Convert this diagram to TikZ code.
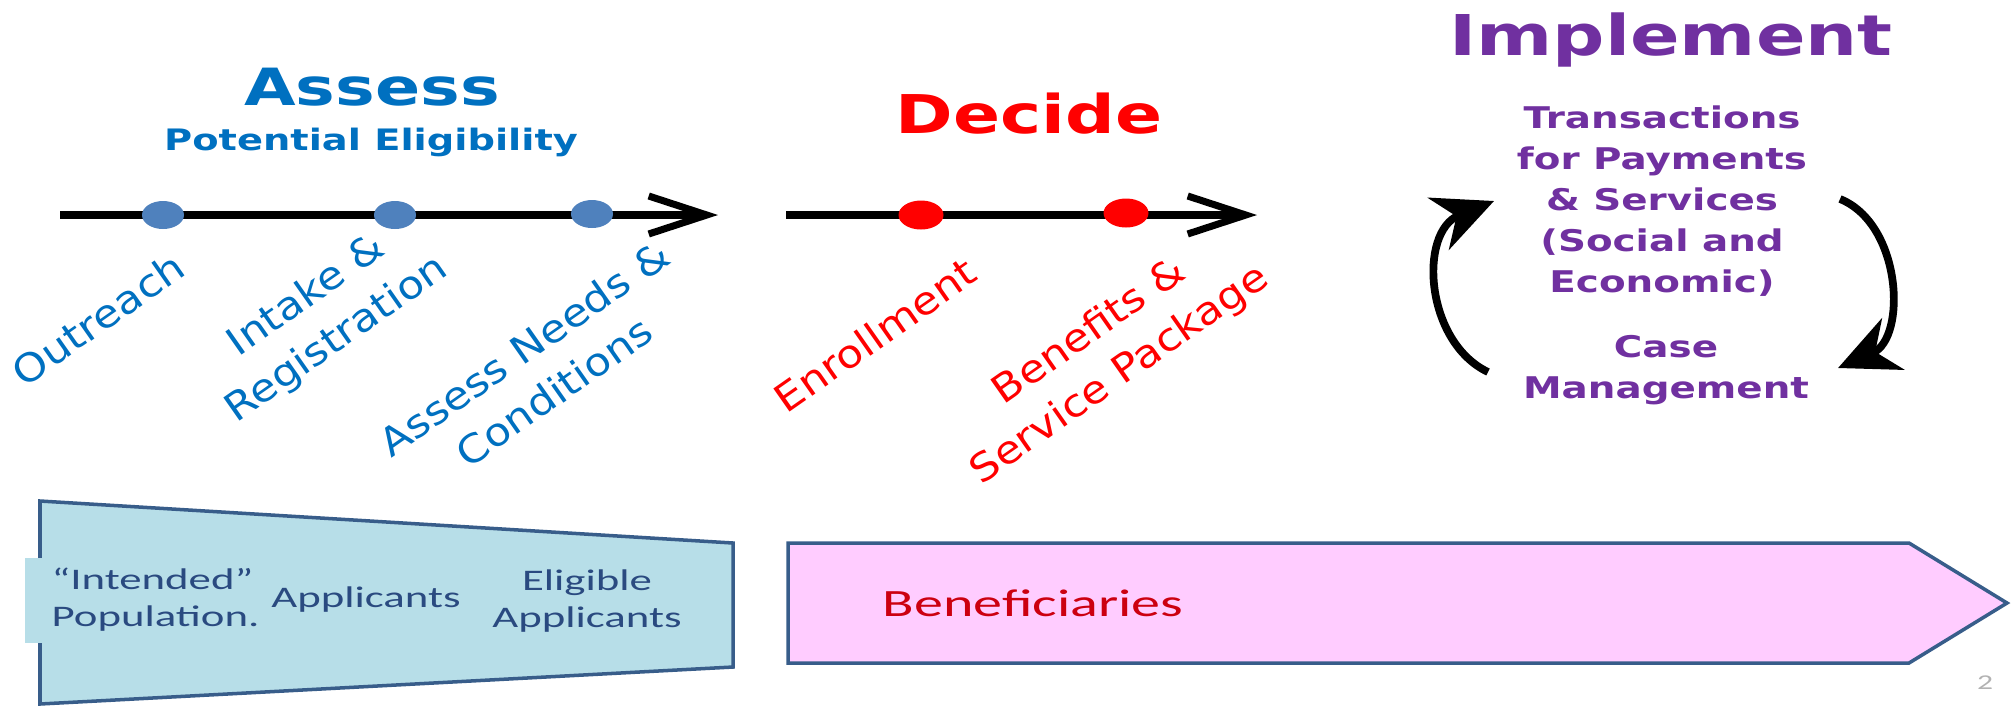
\documentclass[tikz,border=0pt]{standalone}
\usepackage{fontspec}
\setmainfont{DejaVu Sans}
\newfontfamily\headfont[FakeStretch=1.3]{DejaVu Sans}
\newfontfamily\boxfont[FakeStretch=1.5]{Carlito}
\newfontfamily\stepfont[FakeStretch=1.12]{DejaVu Sans}
\usepackage{xcolor}
\usetikzlibrary{arrows.meta,shapes.geometric,positioning}
\definecolor{assessblue}{HTML}{0070C0}
\definecolor{dotblue}{HTML}{4F81BD}
\definecolor{implpurple}{HTML}{7030A0}
\definecolor{boxblue}{HTML}{B7DEE8}
\definecolor{edgeblue}{HTML}{385D8A}
\definecolor{boxtext}{HTML}{2A4A80}
\definecolor{benpink}{HTML}{FFCCFF}
\definecolor{bentext}{HTML}{CC0010}
\tikzset{
  stepdot/.style={draw=none, ellipse, minimum width=4.2mm, minimum height=2.8mm, inner sep=0pt},
  steplabel/.style={rotate=35, align=center, inner sep=0pt, font=\stepfont\fontsize{11}{15}\selectfont},
  timeline/.style={line width=2pt, -{Straight Barb[length=5.8mm,width=3.8mm]}},
  cyclearrow/.style={line width=2.2pt, -{Stealth[length=6mm,width=5.6mm]}}
}

\begin{document}
\begin{tikzpicture}[x=0.1mm,y=-0.1mm,
    title/.style={anchor=base, inner sep=0pt},
    impl/.style={align=center, inner sep=0pt, text=implpurple, font=\headfont\bfseries\fontsize{8.5}{11.7}\selectfont},
    boxtxt/.style={inner sep=0pt, text=boxtext, font=\boxfont\fontsize{8.5}{10.5}\selectfont},
    boxline/.style={draw=edgeblue, line width=1pt}]
  \useasboundingbox (0,0) rectangle (2011,706);

  \node[title, text=assessblue, font=\headfont\bfseries\fontsize{14.6}{17}\selectfont] (assess) at (372,105) {Assess};
  \node[title, text=assessblue, font=\headfont\bfseries\fontsize{8.4}{10}\selectfont] (elig) at (371,150) {Potential Eligibility};
  \coordinate (asstart) at (60,215);
  \coordinate (asend) at (718,215);
  \draw[timeline] (asstart) -- (asend);
  \node[stepdot, fill=dotblue] (outreach) at (163,215) {};
  \node[stepdot, fill=dotblue] (intake) at (395,215) {};
  \node[stepdot, fill=dotblue] (needs) at (592,214) {};
  \node[steplabel, text=assessblue] (outreachtxt) at (98,319) {Outreach};
  \node[steplabel, text=assessblue] (intaketxt) at (322,318) {Intake \&\\Registration};
  \node[steplabel, text=assessblue] (needstxt) at (539,370) {Assess Needs \&\\Conditions};

  \node[title, text=red, font=\headfont\bfseries\fontsize{15.2}{18}\selectfont] (decide) at (1029,133) {Decide};
  \coordinate (destart) at (786,215);
  \coordinate (deend) at (1257,215);
  \draw[timeline] (destart) -- (deend);
  \node[stepdot, fill=red, minimum width=4.5mm, minimum height=2.9mm] (enrol) at (921,215) {};
  \node[stepdot, fill=red, minimum width=4.5mm, minimum height=2.9mm] (benefit) at (1126,213) {};
  \node[steplabel, text=red] (enroltxt) at (875,335) {Enrollment};
  \node[steplabel, text=red] (benefittxt) at (1105,354) {Benefits \&\\Service Package};

  \node[title, text=implpurple, font=\headfont\bfseries\fontsize{16}{19}\selectfont] (implement) at (1671,55) {Implement};
  \node[impl] (trans) at (1662,201) {Transactions\\for Payments\\\& Services\\(Social and\\Economic)};
  \node[impl] (casemgmt) at (1666,370) {Case\\Management};
  \coordinate (cyclstart) at (1488,372);
  \coordinate (cyclend) at (1494,201);
  \coordinate (cycrstart) at (1840,199);
  \coordinate (cycrend) at (1838,368);
  \draw[cyclearrow] (cyclstart) .. controls (1425,342) and (1418,232) .. (cyclend);
  \draw[cyclearrow] (cycrstart) .. controls (1902,224) and (1907,338) .. (cycrend);

  \draw[boxline, fill=boxblue] (40,501) -- (733,543) -- (733,667) -- (40,704) -- cycle;
  \node[boxtxt, fill=boxblue, anchor=west, minimum height=8.5mm, inner xsep=2.7mm, align=left] (popul) at (24,600) {“Intended”\\Population.};
  \node[boxtxt] (appl) at (366,600) {Applicants};
  \node[boxtxt, align=center] (eligappl) at (587,601) {Eligible\\Applicants};

  \draw[boxline, fill=benpink] (788,543) -- (1909,543) -- (2007,603) -- (1909,663) -- (788,663) -- cycle;
  \node[inner sep=0pt, anchor=west, text=bentext, font=\boxfont\fontsize{11}{13}\selectfont] (benef) at (882,603) {Beneficiaries};
  \node[inner sep=0pt, text=gray!60, font=\boxfont\fontsize{6}{7}\selectfont] (pageno) at (1985,683) {2};
\end{tikzpicture}
\end{document}
